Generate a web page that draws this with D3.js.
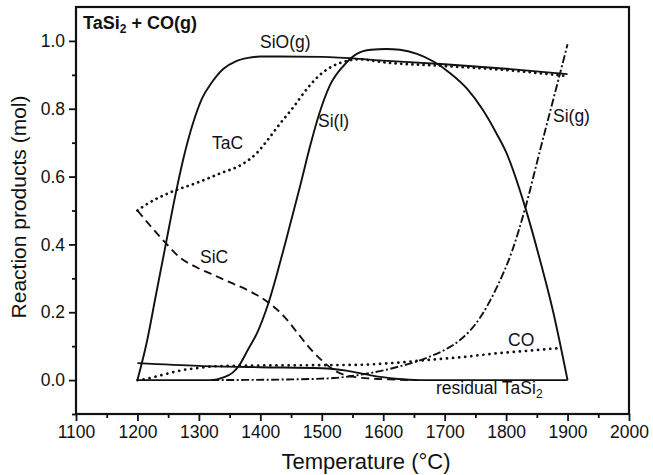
<!DOCTYPE html>
<html>
<head>
<meta charset="utf-8">
<script src="https://cdn.jsdelivr.net/npm/d3@7"></script>
<style>
  body { margin: 0; background: #fff; }
  svg { display: block; font-family: "Liberation Sans", Arial, sans-serif; }
</style>
</head>
<body>
<div id="chart"></div>
<script>
// values: [temperature, mol]
const sio = [[1200, 0], [1215, 0.11], [1230, 0.25], [1245, 0.39], [1260, 0.53], [1275, 0.655], [1290, 0.755],
  [1305, 0.83], [1320, 0.875], [1340, 0.918], [1360, 0.94], [1380, 0.95], [1400, 0.954], [1500, 0.953],
  [1600, 0.942], [1700, 0.931], [1800, 0.918], [1900, 0.902]];
const sil = [[1200, 0], [1320, 0], [1340, 0.008], [1355, 0.022], [1365, 0.042], [1380, 0.09], [1395, 0.14],
  [1413, 0.226], [1440, 0.4], [1465, 0.574], [1481, 0.69], [1495, 0.78], [1513, 0.868], [1535, 0.926],
  [1557, 0.962], [1580, 0.974], [1605, 0.976], [1627, 0.974], [1655, 0.962], [1681, 0.94], [1709, 0.905],
  [1736, 0.86], [1762, 0.797], [1785, 0.725], [1800, 0.672], [1831, 0.51], [1855, 0.355], [1876, 0.206],
  [1900, 0]];
const tac = [[1200, 0.5], [1212, 0.515], [1253, 0.553], [1297, 0.582], [1334, 0.609], [1372, 0.638],
  [1395, 0.671], [1411, 0.706], [1432, 0.756], [1453, 0.803], [1476, 0.859], [1497, 0.9], [1518, 0.926],
  [1541, 0.941], [1560, 0.946], [1600, 0.937], [1700, 0.926], [1800, 0.914], [1900, 0.896]];
const sic = [[1200, 0.5], [1245, 0.406], [1270, 0.36], [1297, 0.332], [1330, 0.305], [1355, 0.285],
  [1385, 0.26], [1413, 0.229], [1440, 0.185], [1460, 0.14], [1480, 0.095], [1500, 0.058], [1525, 0.024],
  [1550, 0.01], [1575, 0.005], [1610, 0.002], [1650, 0]];
const sig = [[1320, 0], [1450, 0.002], [1520, 0.006], [1560, 0.015], [1615, 0.035], [1670, 0.065],
  [1705, 0.094], [1725, 0.118], [1758, 0.185], [1785, 0.274], [1810, 0.382], [1831, 0.506], [1855, 0.676],
  [1878, 0.836], [1900, 0.99]];
const co = [[1200, 0], [1215, 0.004], [1240, 0.015], [1275, 0.03], [1300, 0.036], [1330, 0.041],
  [1400, 0.043], [1500, 0.044], [1560, 0.045], [1620, 0.051], [1670, 0.059], [1730, 0.068], [1780, 0.078],
  [1840, 0.087], [1890, 0.095]];
const tasi2 = [[1200, 0.05], [1300, 0.042], [1400, 0.038], [1500, 0.035], [1540, 0.028], [1580, 0.014],
  [1620, 0.004], [1660, 0], [1900, 0]];

const xTicks = d3.range(1100, 2001, 100);
const xMinor = d3.range(1150, 2000, 100);
const yTicks = [0, 0.2, 0.4, 0.6, 0.8, 1.0];
const yMinor = [-0.1, 0.1, 0.3, 0.5, 0.7, 0.9];

const width = 653, height = 475;
const margin = { top: 7, right: 24, bottom: 61, left: 76 };

const svg = d3.select("#chart").append("svg")
  .attr("width", width)
  .attr("height", height);

const x = d3.scaleLinear().domain([1100, 2000]).range([margin.left, width - margin.right]);
const y = d3.scaleLinear().domain([-0.1, 1.1]).range([height - margin.bottom, margin.top]);

const line = d3.line()
  .x(d => x(d[0]))
  .y(d => y(d[1]))
  .curve(d3.curveMonotoneX);

// curves
const series = [
  { data: sio, dash: null },
  { data: sil, dash: null },
  { data: tasi2, dash: null },
  { data: tac, dash: "0.1,5.5", w: 2.7 },
  { data: co, dash: "0.1,6", w: 2.7 },
  { data: sic, dash: "8,5" },
  { data: sig, dash: "8,2.5,2,2.5" }
];

svg.append("g").selectAll("path")
  .data(series)
  .enter()
  .append("path")
  .attr("d", d => line(d.data))
  .attr("fill", "none")
  .attr("stroke", "#111")
  .attr("stroke-width", d => d.w || 1.9)
  .attr("stroke-linecap", d => d.w ? "round" : "butt")
  .attr("stroke-dasharray", d => d.dash);

// axes
svg.append("g")
  .attr("transform", `translate(0,${height - margin.bottom})`)
  .call(d3.axisBottom(x).tickValues(xTicks).tickSize(7).tickPadding(5).tickFormat(d3.format("d")));
svg.append("g")
  .attr("transform", `translate(0,${height - margin.bottom})`)
  .call(d3.axisBottom(x).tickValues(xMinor).tickSize(4).tickFormat(""));

svg.append("g")
  .attr("transform", `translate(${margin.left},0)`)
  .call(d3.axisLeft(y).tickValues(yTicks).tickSize(7).tickPadding(4).tickFormat(d3.format(".1f")));
svg.append("g")
  .attr("transform", `translate(${margin.left},0)`)
  .call(d3.axisLeft(y).tickValues(yMinor).tickSize(4).tickFormat(""));

svg.selectAll(".domain").remove();
svg.selectAll(".tick line").attr("stroke", "#111").attr("stroke-width", 1.8);
svg.selectAll(".tick text").attr("font-size", 17.5).attr("fill", "#111")
  .attr("font-family", "'Liberation Sans', Arial, sans-serif");

// frame
svg.append("rect")
  .attr("x", x(1100))
  .attr("y", y(1.1))
  .attr("width", x(2000) - x(1100))
  .attr("height", y(-0.1) - y(1.1))
  .attr("fill", "none")
  .attr("stroke", "#111")
  .attr("stroke-width", 2.2);

// axis titles
svg.append("text")
  .attr("x", 366)
  .attr("y", 469)
  .attr("text-anchor", "middle")
  .attr("font-size", 22)
  .attr("fill", "#111")
  .text("Temperature (°C)");

svg.append("text")
  .attr("transform", "translate(26,207) rotate(-90)")
  .attr("text-anchor", "middle")
  .attr("font-size", 21)
  .attr("fill", "#111")
  .text("Reaction products (mol)");

// title
const title = svg.append("text")
  .attr("x", 83)
  .attr("y", 29)
  .attr("font-size", 18)
  .attr("font-weight", "bold")
  .attr("fill", "#111");
title.append("tspan").text("TaSi");
title.append("tspan").attr("font-size", 12).attr("dy", 4).text("2");
title.append("tspan").attr("dy", -4).text(" + CO(g)");

// curve labels
const labels = [
  { t: "SiO(g)", x: 260, y: 48 },
  { t: "TaC", x: 212, y: 149 },
  { t: "Si(l)", x: 318, y: 127 },
  { t: "Si(g)", x: 553, y: 122 },
  { t: "SiC", x: 200, y: 263 },
  { t: "CO", x: 508, y: 346 }
];
svg.append("g").selectAll("text")
  .data(labels)
  .enter()
  .append("text")
  .attr("x", d => d.x)
  .attr("y", d => d.y)
  .attr("font-size", 17.5)
  .attr("fill", "#111")
  .text(d => d.t);

const res = svg.append("text")
  .attr("x", 436)
  .attr("y", 394)
  .attr("font-size", 17.5)
  .attr("fill", "#111");
res.append("tspan").text("residual TaSi");
res.append("tspan").attr("font-size", 12).attr("dy", 4).text("2");
</script>
</body>
</html>
